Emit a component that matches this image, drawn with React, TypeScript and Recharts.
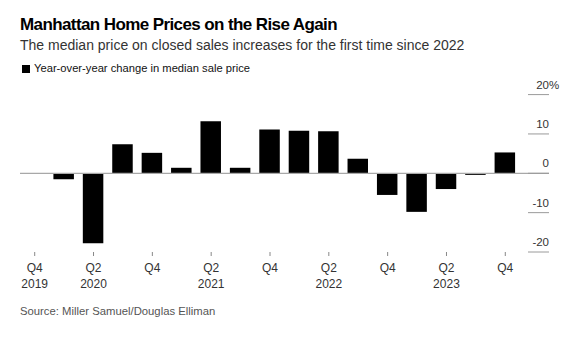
import React from "react";
import { BarChart, Bar, XAxis, YAxis, ReferenceLine } from "recharts";

const quarters = ["Q4", "Q1", "Q2", "Q3", "Q4", "Q1", "Q2", "Q3", "Q4", "Q1", "Q2", "Q3", "Q4", "Q1", "Q2", "Q3", "Q4"];
const years = ["2019", "2020", "2020", "2020", "2020", "2021", "2021", "2021", "2021", "2022", "2022", "2022", "2022", "2023", "2023", "2023", "2023"];
const yearLabels = ["2019", "", "2020", "", "", "", "2021", "", "", "", "2022", "", "", "", "2023", "", ""];
const yoyChange = [0, -1.5, -17.8, 7.4, 5.2, 1.4, 13.2, 1.4, 11.1, 10.8, 10.7, 3.7, -5.5, -9.8, -4.0, -0.4, 5.3];
const yTicks = [-20, -10, 0, 10, 20];

const data = quarters.map((q, i) => ({
  key: `${q} ${years[i]}`,
  q,
  yearLabel: yearLabels[i],
  value: yoyChange[i],
}));

const FONT = '"Liberation Sans", Arial, Helvetica, sans-serif';
const W = 580;
const H = 355;
const PLOT_LEFT = 20;
const PLOT_RIGHT = 549;
const PLOT_TOP = 94.6;
const PLOT_BOTTOM = 252;
const XAXIS_H = 30;

const XTick = (props: any) => {
  const { x, y, payload } = props;
  const d = data[payload.index];
  return (
    <g>
      <text x={x} y={y + 14} textAnchor="middle" fontSize={12} fill="#333" fontFamily={FONT}>
        {d ? d.q : ""}
      </text>
      {d && d.yearLabel ? (
        <text x={x} y={y + 30} textAnchor="middle" fontSize={12} fill="#333" fontFamily={FONT}>
          {d.yearLabel}
        </text>
      ) : null}
    </g>
  );
};

const YTick = (props: any) => {
  const { y, payload } = props;
  const v = payload.value;
  const isTop = v === yTicks[yTicks.length - 1];
  return (
    <g>
      <line x1={PLOT_RIGHT - 21} x2={PLOT_RIGHT} y1={y} y2={y} stroke="#9a9a9a" strokeWidth={1} />
      <text x={PLOT_RIGHT} y={y - 6} textAnchor="end" fontSize={11.5} fill="#333" fontFamily={FONT}>
        {String(v)}
      </text>
      {isTop ? (
        <text x={PLOT_RIGHT} y={y - 6} textAnchor="start" fontSize={11.5} fill="#333" fontFamily={FONT}>
          %
        </text>
      ) : null}
    </g>
  );
};

export default function App() {
  return (
    <div style={{ position: "absolute", left: 0, top: 0, width: W, height: H, background: "#fff", fontFamily: FONT }}>
      <div style={{ position: "absolute", left: 20, top: 15.6, fontSize: 17, lineHeight: "17px", fontWeight: 700, color: "#000", letterSpacing: -0.6, whiteSpace: "nowrap" }}>
        Manhattan Home Prices on the Rise Again
      </div>
      <div style={{ position: "absolute", left: 20, top: 38.1, fontSize: 14, lineHeight: "14px", color: "#333", letterSpacing: 0, whiteSpace: "nowrap" }}>
        The median price on closed sales increases for the first time since 2022
      </div>
      <div style={{ position: "absolute", left: 22, top: 65, width: 7.5, height: 7.5, background: "#000" }} />
      <div style={{ position: "absolute", left: 34, top: 63.4, fontSize: 11.2, lineHeight: "11px", color: "#111", whiteSpace: "nowrap" }}>
        Year-over-year change in median sale price
      </div>
      <div style={{ position: "absolute", left: 20, top: 305.5, fontSize: 11.3, lineHeight: "11px", color: "#555", whiteSpace: "nowrap" }}>
        Source: Miller Samuel/Douglas Elliman
      </div>
      <div style={{ position: "absolute", left: 0, top: 0 }}>
        <BarChart
          width={W}
          height={H}
          data={data}
          margin={{ top: PLOT_TOP, bottom: H - PLOT_BOTTOM - XAXIS_H, left: PLOT_LEFT, right: W - PLOT_RIGHT }}
          barSize={20.5}
        >
          <XAxis
            dataKey="key"
            height={XAXIS_H}
            axisLine={false}
            tickSize={4}
            tickLine={{ stroke: "#888", strokeWidth: 1 }}
            interval={1}
            padding={{ left: 0, right: 29 }}
            tick={<XTick />}
          />
          <YAxis
            orientation="right"
            mirror
            domain={[-20, 20]}
            ticks={yTicks}
            axisLine={false}
            tickLine={false}
            tickSize={0}
            tickMargin={0}
            tick={<YTick />}
          />
          <ReferenceLine y={0} stroke="#a8a8a8" strokeWidth={1.2} />
          <Bar dataKey="value" fill="#000" isAnimationActive={false} />
        </BarChart>
      </div>
    </div>
  );
}
